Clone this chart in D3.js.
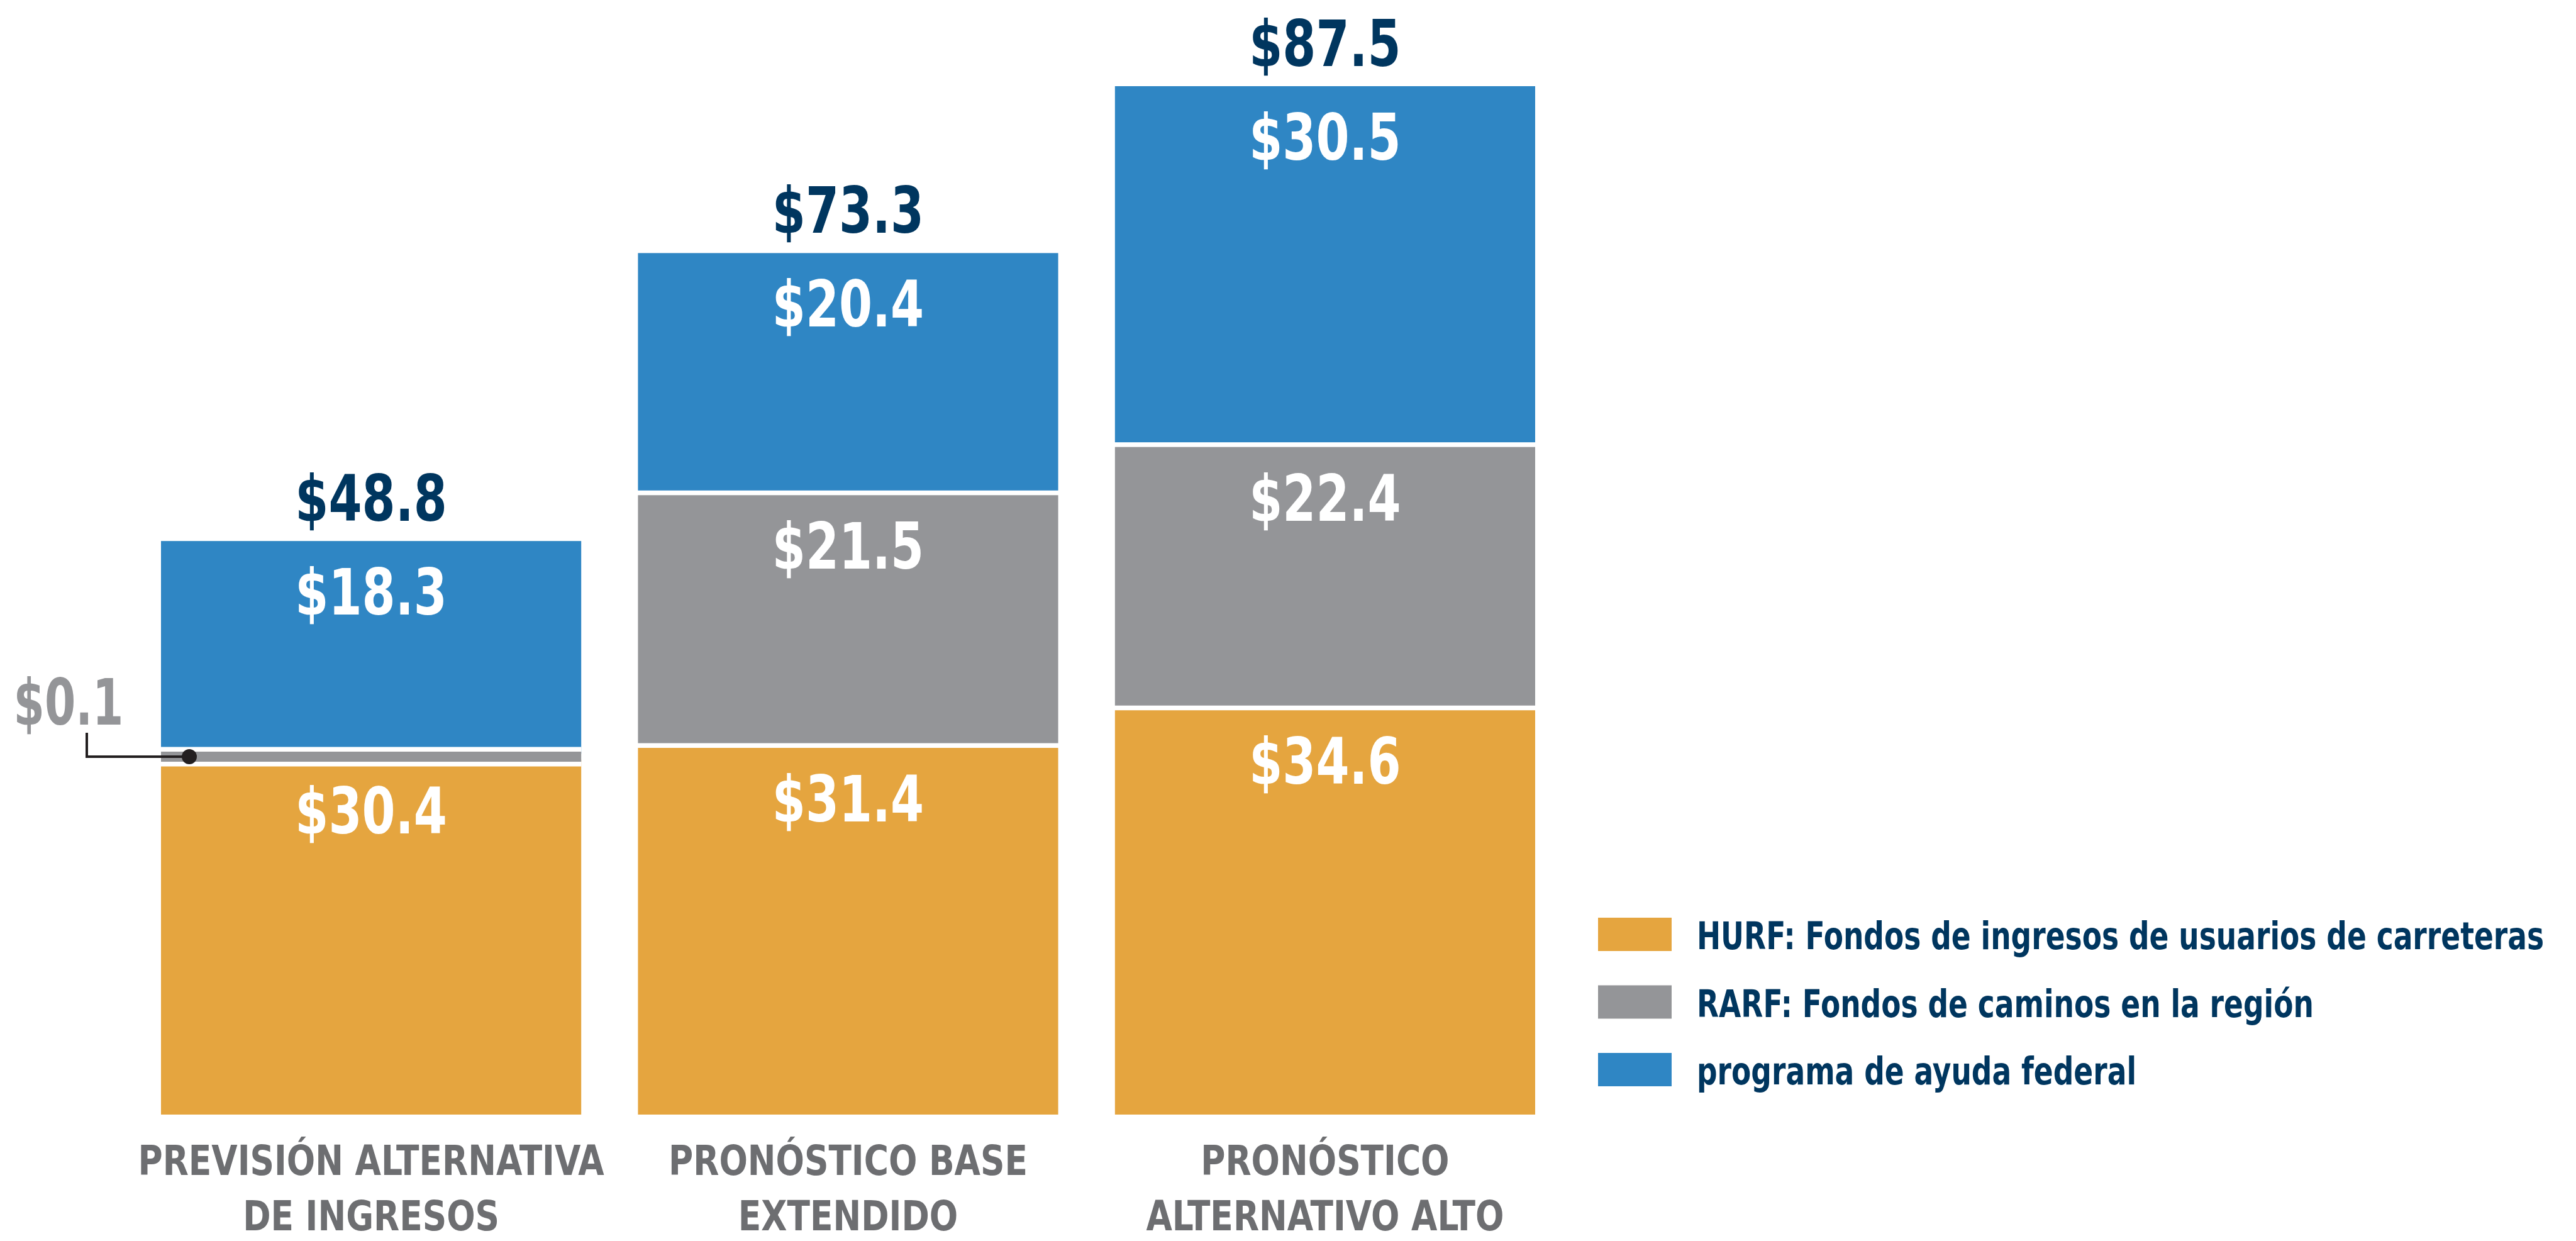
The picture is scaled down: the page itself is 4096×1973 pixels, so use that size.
<!DOCTYPE html>
<html lang="es">
<head>
<meta charset="UTF-8">
<title>Fondos por escenario</title>
<style>
  html, body { margin: 0; padding: 0; background: #fff; }
  svg { display: block; }
  text { font-family: "Liberation Sans Narrow", "DejaVu Sans Condensed", "Roboto", sans-serif; font-weight: bold; }
</style>
<script src="https://cdn.jsdelivr.net/npm/d3@7"></script>
</head>
<body>
<script>
// data (millions of dollars)
const categories = ["prevision", "base", "alto"];
const categoryLines = [
  ["PREVISIÓN ALTERNATIVA", "DE INGRESOS"],
  ["PRONÓSTICO BASE", "EXTENDIDO"],
  ["PRONÓSTICO", "ALTERNATIVO ALTO"]
];
const seriesKeys = ["hurf", "rarf", "federal"];
const seriesNames = [
  "HURF: Fondos de ingresos de usuarios de carreteras",
  "RARF: Fondos de caminos en la región",
  "programa de ayuda federal"
];
const hurf = [30.4, 31.4, 34.6];
const rarf = [0.1, 21.5, 22.4];
const federal = [18.3, 20.4, 30.5];
const totals = [48.8, 73.3, 87.5];

const colors = ["#e5a53f", "#949598", "#2f86c4"];
const navy = "#00365f";
const catGrey = "#6d6e71";

const W = 4096, H = 1973;
const gap = 7.5;       // white separation between stacked segments
const minSeg = 16;     // tiny segments still drawn visibly
const valSize = 101;

// squeeze text horizontally so the wide fallback font looks condensed
function condense(sel, k) {
  sel.each(function() {
    const t = d3.select(this);
    const tx = +t.attr("x"), ty = +t.attr("y");
    t.attr("x", 0).attr("y", 0)
      .attr("transform", `translate(${tx},${ty}) scale(${k},1)`);
  });
}

const rows = categories.map((c, i) => ({cat: c, hurf: hurf[i], rarf: rarf[i], federal: federal[i]}));
const stacked = d3.stack().keys(seriesKeys)(rows);

const svg = d3.select("body").append("svg")
  .attr("width", W).attr("height", H);

const x = d3.scaleBand().domain(categories).range([256, 2441]).paddingInner(0.119).paddingOuter(0);
const y = d3.scaleLinear().domain([0, d3.max(totals)]).range([1772, 137]);

const bars = svg.append("g");
const tiny = [];

stacked.forEach((layer, si) => {
  layer.forEach((d, ci) => {
    const top = y(d[1]), bottom = y(d[0]);
    const isTop = si === stacked.length - 1;
    const isBottom = si === 0;
    if (bottom - top < minSeg) {
      tiny.push({si, ci, c: (top + bottom) / 2});
      return;
    }
    const y0 = top + (isTop ? 0 : gap / 2);
    const y1 = bottom - (isBottom ? 0 : gap / 2);
    bars.append("rect")
      .attr("x", x(categories[ci]))
      .attr("width", x.bandwidth())
      .attr("y", y0)
      .attr("height", y1 - y0)
      .attr("fill", colors[si]);
    bars.append("text")
      .attr("class", "val")
      .attr("x", x(categories[ci]) + x.bandwidth() / 2)
      .attr("y", y0 + 117)
      .attr("text-anchor", "middle")
      .attr("fill", "#fff")
      .attr("font-size", valSize)
      .text("$" + d3.format(".1f")(d[1] - d[0]));
  });
});

// totals above the bars
svg.append("g").selectAll("text")
  .data(totals)
  .join("text")
  .attr("class", "val")
  .attr("x", (d, i) => x(categories[i]) + x.bandwidth() / 2)
  .attr("y", d => y(d) - 32)
  .attr("text-anchor", "middle")
  .attr("fill", navy)
  .attr("font-size", valSize)
  .text(d => "$" + d3.format(".1f")(d));

condense(svg.selectAll("text.val"), 0.84);

// tiny segments (the $0.1) get a white band and a leader line
tiny.forEach(t => {
  const bx = x(categories[t.ci]);
  bars.append("rect")
    .attr("x", bx).attr("width", x.bandwidth())
    .attr("y", t.c - minSeg / 2 - gap).attr("height", minSeg + 2 * gap)
    .attr("fill", "#fff");
  bars.append("rect")
    .attr("x", bx).attr("width", x.bandwidth())
    .attr("y", t.c - minSeg / 2).attr("height", minSeg)
    .attr("fill", colors[t.si]);
  const lx = bx - 118;
  svg.append("path")
    .attr("d", `M${bx + 45},${t.c}H${lx}V${t.c - 38}`)
    .attr("fill", "none").attr("stroke", "#231f20").attr("stroke-width", 4);
  svg.append("circle")
    .attr("cx", bx + 45).attr("cy", t.c).attr("r", 12)
    .attr("fill", "#231f20");
  const val = [hurf, rarf, federal][t.si][t.ci];
  const lbl = svg.append("text")
    .attr("x", bx - 147).attr("y", t.c - 51)
    .attr("text-anchor", "middle")
    .attr("fill", colors[t.si])
    .attr("font-size", valSize)
    .text("$" + d3.format(".1f")(val));
  condense(lbl, 0.78);
});

// category labels, one text per line
const catG = svg.append("g");
categoryLines.forEach((lines, i) => {
  lines.forEach((l, j) => {
    catG.append("text")
      .attr("x", x(categories[i]) + x.bandwidth() / 2)
      .attr("y", 1868 + j * 88)
      .attr("text-anchor", "middle")
      .attr("fill", catGrey)
      .attr("font-size", 66)
      .text(l);
  });
});
condense(catG.selectAll("text"), 0.9);

// legend
const legend = svg.append("g").attr("transform", "translate(2541,1459)");
seriesNames.forEach((name, i) => {
  const g = legend.append("g").attr("transform", `translate(0,${i * 107.5})`);
  g.append("rect").attr("width", 117).attr("height", 53).attr("fill", colors[i]);
  g.append("text")
    .attr("x", 157).attr("y", 50)
    .attr("fill", navy)
    .attr("font-size", 61)
    .text(name);
});
condense(legend.selectAll("text"), 0.83);
</script>
</body>
</html>
